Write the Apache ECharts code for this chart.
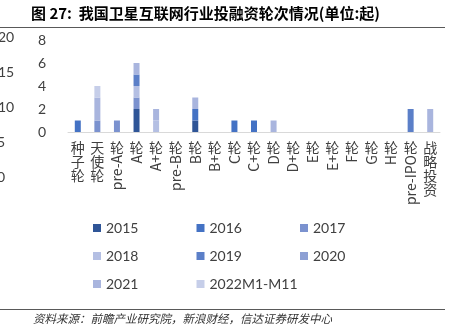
<!DOCTYPE html>
<html><head><meta charset="utf-8">
<script src="https://cdn.jsdelivr.net/npm/echarts@6/dist/echarts.min.js"></script>
<style>html,body{margin:0;padding:0;background:#fff}#c{width:458px;height:327px}</style>
</head><body><div id="c"></div>
<script>
// Financing rounds of China's satellite-internet industry, by year (count of deals)
const categories = ['种子轮','天使轮','pre-A轮','A轮','A+轮','pre-B轮','B轮','B+轮','C轮','C+轮','D轮','D+轮','E轮','E+轮','F轮','G轮','H轮','pre-IPO轮','战略投资'];
const years = ['2015','2016','2017','2018','2019','2020','2021','2022M1-M11'];
const v2015 = [0,0,0,2,0,0,1,0,0,0,0,0,0,0,0,0,0,0,0];
const v2016 = [1,0,0,0,0,0,1,0,1,1,0,0,0,0,0,0,0,0,0];
const v2017 = [0,1,1,1,0,0,0,0,0,0,0,0,0,0,0,0,0,0,0];
const v2018 = [0,0,0,1,1,0,0,0,0,0,0,0,0,0,0,0,0,0,0];
const v2019 = [0,0,0,1,0,0,0,0,0,0,0,0,0,0,0,0,0,2,0];
const v2020 = [0,0,0,0,0,0,0,0,0,0,0,0,0,0,0,0,0,0,0];
const v2021 = [0,2,0,1,1,0,1,0,0,0,1,0,0,0,0,0,0,0,2];
const v2022 = [0,1,0,0,0,0,0,0,0,0,0,0,0,0,0,0,0,0,0];
const seriesValues = [v2015,v2016,v2017,v2018,v2019,v2020,v2021,v2022];
const yTicks = [0,2,4,6,8];
// tick labels of the neighbouring panel, clipped at the page edge
const sideTicks = ['20','15','10','5','0'];

const colors = ['#2f5597','#4472c4','#7b92cf','#b4bfe3','#5b7fc8','#8da0d4','#a9b5de','#c6cee9'];
const txt = '#404040';
const numFont = 'Lato, "Open Sans", sans-serif';

const chart = echarts.init(document.getElementById('c'), null, {renderer:'canvas'});

const legends = years.map((y, i) => ({
  data: [y],
  left: 93 + (i % 3) * 103.5,
  top: 221 + Math.floor(i / 3) * 28,
  padding: 0, itemGap: 0, itemWidth: 8, itemHeight: 8, icon: 'rect',
  selectedMode: false,
  textStyle: {fontSize: 14, fontFamily: numFont, color: txt}
}));

chart.setOption({
  animation: false,
  backgroundColor: '#fff',
  grid: {left: 68, right: 18, top: 40, bottom: 195, containLabel: false},
  legend: legends,
  xAxis: {
    type: 'category', data: categories,
    axisTick: {show: false},
    axisLine: {lineStyle: {color: '#d9d9d9', width: 1}},
    axisLabel: {show: false}
  },
  yAxis: {
    type: 'value', min: yTicks[0], max: yTicks[yTicks.length - 1], interval: yTicks[1] - yTicks[0],
    splitLine: {show: false}, axisLine: {show: false}, axisTick: {show: false},
    axisLabel: {fontSize: 14, fontFamily: numFont, color: txt, margin: 22}
  },
  series: years.map((y, i) => ({
    name: y, type: 'bar', stack: 'total', barWidth: 6,
    itemStyle: {color: colors[i]},
    data: seriesValues[i]
  }))
});

// vertical category labels: pure-CJK names stacked top to bottom;
// names with Latin text read upward, the Latin run turned sideways
const lblFont = '14px "Noto Sans CJK SC", "Open Sans", sans-serif';
const mctx = document.createElement('canvas').getContext('2d');
mctx.font = lblFont;
function labelEls(name, cx, top) {
  const tokens = name.match(/[\x00-\x7f]+|[^\x00-\x7f]/g);
  const hasLatin = /[\x00-\x7f]/.test(name);
  const order = hasLatin ? tokens.slice().reverse() : tokens;
  const out = [];
  let y = top;
  order.forEach(t => {
    if (/^[\x00-\x7f]+$/.test(t)) {
      const w = mctx.measureText(t).width;
      out.push({type: 'text', x: cx, y: y + w, rotation: Math.PI / 2,
        style: {text: t, x: 0, y: 0, font: lblFont, fill: txt, textAlign: 'left', textVerticalAlign: 'middle'}});
      y += w + 1;
    } else {
      out.push({type: 'text', x: cx, y: y,
        style: {text: t, x: 0, y: 0, font: lblFont, fill: txt, textAlign: 'center', textVerticalAlign: 'top'}});
      y += 14;
    }
  });
  return out;
}

const base = chart.convertToPixel({yAxisIndex: 0}, 0);
let g = [];
categories.forEach((c, i) => {
  const cx = chart.convertToPixel({xAxisIndex: 0}, i);
  g = g.concat(labelEls(c, cx, base + 9));
});

sideTicks.forEach((t, i) => {
  g.push({type: 'text', x: t.length > 1 ? -2 : -3, y: 37 + i * 35,
    style: {text: t, x: 0, y: 0, font: '14px ' + numFont, fill: txt, textAlign: 'left', textVerticalAlign: 'middle'}});
});

g.push({type: 'text', x: 31, y: 13,
  style: {text: '图 27:  我国卫星互联网行业投融资轮次情况(单位:起)', x: 0, y: 0,
    font: 'bold 15px "Noto Sans CJK SC", sans-serif', fill: '#000', textAlign: 'left', textVerticalAlign: 'middle'}});
g.push({type: 'line', shape: {x1: 0, y1: 27.5, x2: 445, y2: 27.5}, style: {stroke: '#595959', lineWidth: 1}});
g.push({type: 'line', shape: {x1: 0, y1: 309.5, x2: 445, y2: 309.5}, style: {stroke: '#595959', lineWidth: 1}});
g.push({type: 'text', x: 33, y: 319,
  style: {text: '资料来源：前瞻产业研究院，新浪财经，信达证券研发中心', x: 0, y: 0,
    font: 'italic 11.5px "Noto Sans CJK SC", sans-serif', fill: '#333', textAlign: 'left', textVerticalAlign: 'middle'}});

chart.setOption({graphic: {elements: g}});
</script>
</body></html>
